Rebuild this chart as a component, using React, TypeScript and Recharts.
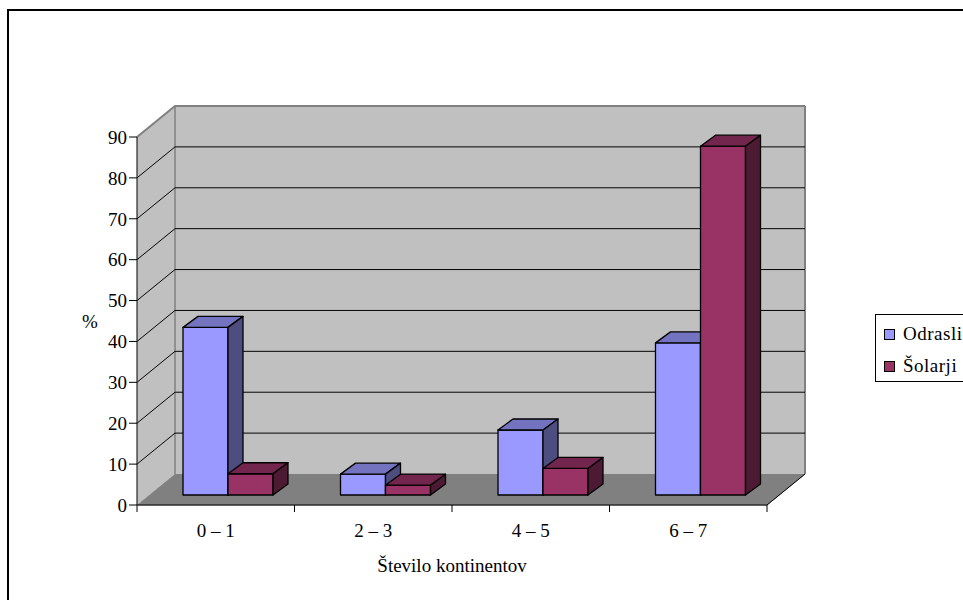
import React from "react";
import { BarChart, Bar, XAxis, YAxis, Legend, ReferenceArea } from "recharts";

const categories = ["0 – 1", "2 – 3", "4 – 5", "6 – 7"];
const odrasli = [41, 5.1, 15.9, 37.2];
const solarji = [5.2, 2.4, 6.5, 85.3];
const percentTicks = [0, 10, 20, 30, 40, 50, 60, 70, 80, 90];

const data = categories.map((kategorija, i) => ({
  kategorija,
  odrasli: odrasli[i],
  solarji: solarji[i],
}));

const FONT = '"Liberation Serif", "Times New Roman", serif';

// oblique offsets used for the pseudo-3d walls and boxes
const WALL_DX = 38;
const WALL_DY = 31;
const BAR_DX = 12;
const BAR_DY = 10;
const BOX_DX = 15;
const BOX_DY = 11;

const WALL = "#c0c0c0";
const FLOOR = "#808080";
const EDGE = "#808080";

const COLORS = {
  odrasli: { front: "#9999ff", top: "#7373bf", side: "#4d4d80" },
  solarji: { front: "#993366", top: "#73264d", side: "#4d1a33" },
};

/// one horizontal slice of the back wall + left wall, with its upper gridline
function wallBand(isFloor: boolean, isTop: boolean) {
  return (props: any) => {
    const { x, y, width: w, height: h } = props;
    const bx = x + WALL_DX;
    const by = y - WALL_DY;
    return (
      <g>
        {isFloor && (
          <polygon
            points={`${x},${y + h} ${bx},${by + h} ${bx + w},${by + h} ${x + w},${y + h}`}
            fill={FLOOR}
            stroke={EDGE}
          />
        )}
        {isFloor && (
          <line x1={x + w} y1={y + h} x2={bx + w} y2={by + h} stroke="#000" />
        )}
        <rect x={bx} y={by} width={w} height={h} fill={WALL} />
        <polygon
          points={`${x},${y} ${bx},${by} ${bx},${by + h} ${x},${y + h}`}
          fill={WALL}
        />
        <line x1={bx} y1={by} x2={bx} y2={by + h} stroke={EDGE} strokeWidth={1.5} />
        <line x1={bx + w} y1={by} x2={bx + w} y2={by + h} stroke={EDGE} strokeWidth={2} />
        <polyline
          points={`${x},${y} ${bx},${by} ${bx + w},${by}`}
          fill="none"
          stroke={isTop ? EDGE : "#000"}
          strokeWidth={isTop ? 2 : 1}
        />
      </g>
    );
  };
}

/// box with front face, lid and right side
function box3d(c: { front: string; top: string; side: string }) {
  return (props: any) => {
    const { x, y, width: w, height: h } = props;
    if (w == null || h == null) return <g />;
    const fx = x + BAR_DX;
    const fy = y - BAR_DY;
    return (
      <g stroke="#000" strokeWidth={1.3} strokeLinejoin="round">
        <rect x={fx} y={fy} width={w} height={h} fill={c.front} />
        <polygon
          points={`${fx},${fy} ${fx + BOX_DX},${fy - BOX_DY} ${fx + w + BOX_DX},${fy - BOX_DY} ${fx + w},${fy}`}
          fill={c.top}
        />
        <polygon
          points={`${fx + w},${fy} ${fx + w + BOX_DX},${fy - BOX_DY} ${fx + w + BOX_DX},${fy + h - BOX_DY} ${fx + w},${fy + h}`}
          fill={c.side}
        />
      </g>
    );
  };
}

/// category label in the middle, tick marks on the band edges
const CategoryTick = (props: any) => {
  const { x, y, payload, index } = props;
  const half = payload?.offset ?? 0;
  const axisY = y - 9;
  return (
    <g>
      <line x1={x - half} y1={axisY} x2={x - half} y2={axisY + 7} stroke="#000" />
      {index === categories.length - 1 && (
        <line x1={x + half} y1={axisY} x2={x + half} y2={axisY + 7} stroke="#000" />
      )}
      <text
        x={x}
        y={axisY + 32}
        textAnchor="middle"
        fontSize={19}
        fontFamily={FONT}
        fill="#000"
      >
        {payload.value}
      </text>
    </g>
  );
};

const LegendBox = (props: any) => {
  const items = props.payload || [];
  return (
    <div
      style={{
        border: "1px solid #000",
        background: "#fff",
        padding: "3px 0 0 8px",
        height: 63,
        boxSizing: "content-box",
        fontFamily: FONT,
      }}
    >
      {items.map((it: any) => (
        <div
          key={it.value}
          style={{ display: "flex", alignItems: "center", height: 32, fontSize: 19, color: "#000" }}
        >
          <span
            style={{
              display: "inline-block",
              width: 9,
              height: 9,
              background: it.color,
              border: "1px solid #000",
              marginRight: 8,
            }}
          />
          <span style={{ letterSpacing: 0.5 }}>{it.value}</span>
        </div>
      ))}
    </div>
  );
};

export default function App() {
  const bands = percentTicks.slice(0, -1).reverse();
  return (
    <div
      style={{
        position: "absolute",
        left: 7,
        top: 9,
        width: 954,
        height: 589,
        borderTop: "2px solid #000",
        borderLeft: "2px solid #000",
        overflow: "hidden",
        background: "#fff",
        fontFamily: FONT,
      }}
    >
      <BarChart
        width={954}
        height={589}
        data={data}
        margin={{ top: 126, right: 196, bottom: 0, left: 0 }}
        barGap={0}
        barSize={45}
      >
        {bands.map((v) => (
          <ReferenceArea
            key={v}
            y1={v}
            y2={v + 10}
            ifOverflow="visible"
            shape={wallBand(v === 0, v === 80)}
          />
        ))}
        <XAxis
          dataKey="kategorija"
          height={95}
          tickSize={7}
          tickMargin={2}
          tickLine={false}
          axisLine={{ stroke: "#000" }}
          tick={<CategoryTick />}
          interval={0}
          label={{
            value: "Število kontinentov",
            position: "insideBottom",
            offset: 28,
            fill: "#000",
            fontSize: 19,
            fontFamily: FONT,
          }}
        />
        <YAxis
          width={128}
          domain={[0, 90]}
          ticks={percentTicks}
          interval={0}
          tickSize={8}
          tickMargin={2}
          axisLine={{ stroke: "#000" }}
          tickLine={{ stroke: "#000" }}
          tick={{ fill: "#000", fontSize: 19, fontFamily: FONT }}
          label={{
            value: "%",
            position: "insideLeft",
            offset: 73,
            fill: "#000",
            fontSize: 19,
            fontFamily: FONT,
          }}
        />
        <Bar
          dataKey="odrasli"
          name="Odrasli"
          fill={COLORS.odrasli.front}
          shape={box3d(COLORS.odrasli)}
          isAnimationActive={false}
        />
        <Bar
          dataKey="solarji"
          name="Šolarji"
          fill={COLORS.solarji.front}
          shape={box3d(COLORS.solarji)}
          isAnimationActive={false}
        />
        <Legend
          layout="vertical"
          align="center"
          verticalAlign="middle"
          wrapperStyle={{ left: 866, top: 303, width: 140 }}
          content={<LegendBox />}
        />
      </BarChart>
    </div>
  );
}
